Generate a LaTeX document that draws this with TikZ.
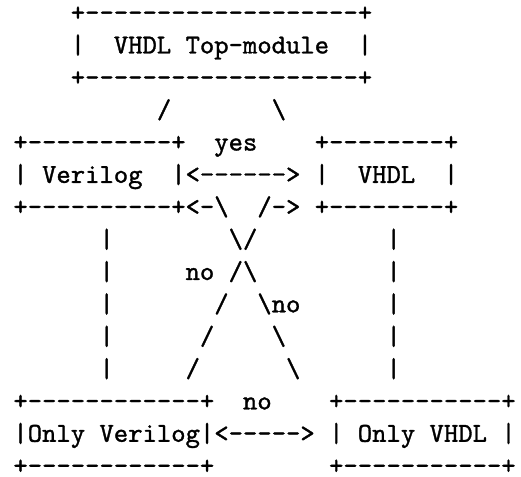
\documentclass[tikz,border=0pt]{standalone}
\usepackage{fontspec}
\newfontfamily\asciitt{Latin Modern Mono}[FakeBold=1.2]
\newcommand\bsl{\textbackslash}

\begin{document}
\begin{tikzpicture}[x=1pt,y=1pt,
    row/.style={anchor=base west,inner sep=0pt,font=\asciitt\fontsize{10}{12}\selectfont}]
    \useasboundingbox (0,0) rectangle (190.6,-174.5);
                % top module box
                \node[row] (row1) at (4.7,-7.7) {~~~~+-------------------+};
                \node[row] (row2) at (4.7,-19.54) {~~~~|~~VHDL Top-module~~|};
                \node[row] (row3) at (4.7,-31.38) {~~~~+-------------------+};
                \node[row] (row4) at (4.7,-43.22) {~~~~~~~~~~/~~~~~~~\bsl};
                % Verilog / VHDL
                \node[row] (row5) at (4.7,-55.06) {+----------+~~yes~~~~+--------+};
                \node[row] (row6) at (4.7,-66.9) {|~Verilog~~|<------>~|~~VHDL~~|};
                \node[row] (row7) at (4.7,-78.74) {+----------+<-\bsl~~/->~+--------+};
                % crossing
                \node[row] (row8) at (4.7,-90.58) {~~~~~~|~~~~~~~~\bsl/~~~~~~~~~|};
                \node[row] (row9) at (4.7,-102.42) {~~~~~~|~~~~~no~/\bsl~~~~~~~~~|};
                \node[row] (row10) at (4.7,-114.26) {~~~~~~|~~~~~~~/~~\bsl no~~~~~~|};
                \node[row] (row11) at (4.7,-126.1) {~~~~~~|~~~~~~/~~~~\bsl~~~~~~~|};
                \node[row] (row12) at (4.7,-137.94) {~~~~~~|~~~~~/~~~~~~\bsl~~~~~~|};
                % only Verilog / only VHDL
                \node[row] (row13) at (4.7,-149.78) {+------------+~~no~~~~+-----------+};
                \node[row] (row14) at (4.7,-161.62) {|Only Verilog|<----->~|~Only VHDL~|};
                \node[row] (row15) at (4.7,-173.46) {+------------+~~~~~~~~+-----------+};
            \end{tikzpicture}
\end{document}
